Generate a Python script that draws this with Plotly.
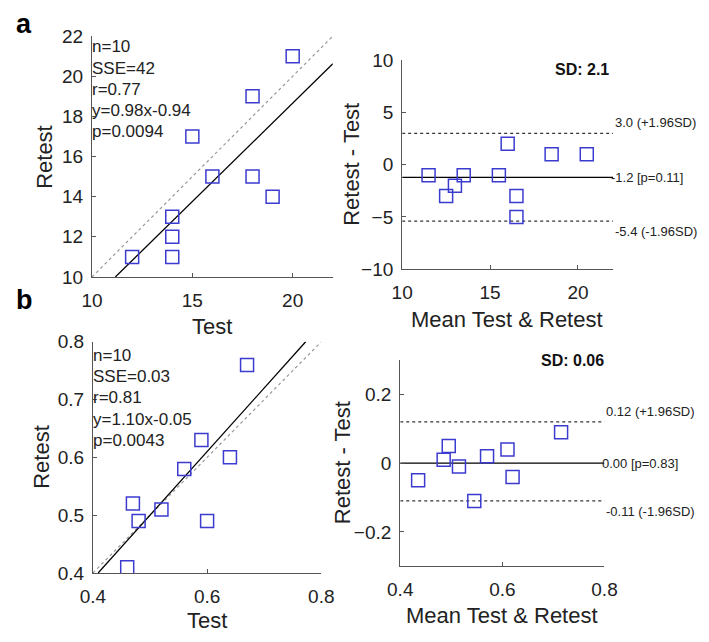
import plotly.graph_objects as go

W, H = 709, 642

# ---- Data: panel a ----
a_test = [12, 14, 14, 14, 15, 16, 18, 18, 19, 20]
a_retest = [11, 11, 12, 13, 17, 15, 15, 19, 14, 21]
a_slope, a_icpt = 0.98, -0.94
a_stats = ["n=10", "SSE=42", "r=0.77", "y=0.98x-0.94", "p=0.0094"]
a_mean_diff, a_upper, a_lower = -1.2, 3.0, -5.4
a_labels = ["3.0 (+1.96SD)", "-1.2 [p=0.11]", "-5.4 (-1.96SD)"]
a_sd = "SD: 2.1"

# ---- Data: panel b ----
b_test = [0.46, 0.47, 0.48, 0.52, 0.56, 0.59, 0.60, 0.64, 0.67]
b_retest = [0.41, 0.52, 0.49, 0.51, 0.58, 0.63, 0.49, 0.60, 0.76]
b_slope, b_icpt = 1.10, -0.05
b_stats = ["n=10", "SSE=0.03", "r=0.81", "y=1.10x-0.05", "p=0.0043"]
b_mean_diff, b_upper, b_lower = 0.00, 0.12, -0.11
b_labels = ["0.12 (+1.96SD)", "0.00 [p=0.83]", "-0.11 (-1.96SD)"]
b_sd = "SD: 0.06"

MK = "#3b3bd0"
FONT = "Liberation Sans, Arial, sans-serif"

def px_x(p):
    return p / W

def px_y(p):
    return 1 - p / H

# panel pixel boxes: (x0, x1, ytop, ybottom)
boxes = {
    1: (82, 332, 27, 276),
    2: (404, 623, 52, 268),
    3: (83, 320, 343, 582),
    4: (402, 614, 362, 575),
}

fig = go.Figure()

def ax(n):
    return ("x" if n == 1 else f"x{n}"), ("y" if n == 1 else f"y{n}")

# ---- Scatter panels (1 and 3) ----
def scatter_panel(n, test, retest, slope, icpt, lo, hi):
    xr, yr = ax(n)
    fig.add_trace(go.Scatter(x=[lo, hi], y=[lo, hi], mode="lines", xaxis=xr, yaxis=yr,
                             line=dict(color="#999999", width=1.2, dash="dot"), showlegend=False))
    x0 = (lo - icpt) / slope
    x1 = min(hi, (hi - icpt) / slope)
    fig.add_trace(go.Scatter(x=[x0, x1], y=[slope * x0 + icpt, slope * x1 + icpt], mode="lines",
                             xaxis=xr, yaxis=yr, line=dict(color="black", width=1.3), showlegend=False))
    fig.add_trace(go.Scatter(x=test, y=retest, mode="markers", xaxis=xr, yaxis=yr,
                             marker=dict(symbol="square-open", size=13, color=MK, line=dict(width=1.5)),
                             showlegend=False))

scatter_panel(1, a_test, a_retest, a_slope, a_icpt, 10, 22)
scatter_panel(3, b_test, b_retest, b_slope, b_icpt, 0.4, 0.8)

# ---- Bland-Altman panels (2 and 4) ----
def ba_panel(n, test, retest, md, up, lowv, xlo, xhi, labels):
    xr, yr = ax(n)
    means = [round((t + r) / 2, 4) for t, r in zip(test, retest)]
    diffs = [round(r - t, 4) for t, r in zip(test, retest)]
    for val in (up, lowv):
        fig.add_trace(go.Scatter(x=[xlo, xhi], y=[val, val], mode="lines", xaxis=xr, yaxis=yr,
                                 line=dict(color="#333333", width=1.2, dash="dot"), showlegend=False))
    fig.add_trace(go.Scatter(x=[xlo, xhi], y=[md, md], mode="lines", xaxis=xr, yaxis=yr,
                             line=dict(color="black", width=1.3), showlegend=False))
    fig.add_trace(go.Scatter(x=means, y=diffs, mode="markers", xaxis=xr, yaxis=yr,
                             marker=dict(symbol="square-open", size=13, color=MK, line=dict(width=1.5)),
                             showlegend=False))
    fig.add_annotation(x=xhi, y=up, xref=xr, yref=yr, text=labels[0], showarrow=False,
                       xanchor="left", yanchor="bottom", yshift=1, font=dict(size=13, color="#222"))
    fig.add_annotation(x=xhi, y=md, xref=xr, yref=yr, text=labels[1], showarrow=False,
                       xanchor="left", yanchor="middle", xshift=-4, font=dict(size=13, color="#222"))
    fig.add_annotation(x=xhi, y=lowv, xref=xr, yref=yr, text=labels[2], showarrow=False,
                       xanchor="left", yanchor="top", yshift=-1, font=dict(size=13, color="#222"))

ba_panel(2, a_test, a_retest, a_mean_diff, a_upper, a_lower, 10, 22, a_labels)
ba_panel(4, b_test, b_retest, b_mean_diff, b_upper, b_lower, 0.4, 0.8, b_labels)

# ---- Axes ----
axis_common = dict(showline=True, linecolor="#555555", linewidth=1.2, ticks="inside", ticklen=4,
                   tickcolor="#555555", showgrid=False, zeroline=False,
                   tickfont=dict(size=19, color="#222222", family=FONT))

specs = {
    1: dict(xr=[10, 22], xt=[10, 15, 20], yr=[10, 22], yt=[10, 12, 14, 16, 18, 20, 22],
            xtitle="Test", ytitle="Retest", xt_pos=(207, 327), yt_pos=(32, 152)),
    2: dict(xr=[10, 22], xt=[10, 15, 20], yr=[-10, 10], yt=[-10, -5, 0, 5, 10],
            xtitle="Mean Test & Retest", ytitle="Retest - Test", xt_pos=(513, 320), yt_pos=(352, 160)),
    3: dict(xr=[0.4, 0.8], xt=[0.4, 0.6, 0.8], yr=[0.4, 0.8], yt=[0.4, 0.5, 0.6, 0.7, 0.8],
            xtitle="Test", ytitle="Retest", xt_pos=(201, 631), yt_pos=(30, 462)),
    4: dict(xr=[0.4, 0.8], xt=[0.4, 0.6, 0.8], yr=[-0.3, 0.3], yt=[-0.2, 0, 0.2],
            xtitle="Mean Test & Retest", ytitle="Retest - Test", xt_pos=(508, 626), yt_pos=(342, 468)),
}

layout = {}
for n, s in specs.items():
    x0, x1, yt, yb = boxes[n]
    xa = "xaxis" if n == 1 else f"xaxis{n}"
    ya = "yaxis" if n == 1 else f"yaxis{n}"
    yref = "y" if n == 1 else f"y{n}"
    xref = "x" if n == 1 else f"x{n}"
    layout[xa] = dict(axis_common, domain=[px_x(x0), px_x(x1)], range=s["xr"], tickvals=s["xt"],
                      anchor=yref, ticklabelstandoff=6)
    layout[ya] = dict(axis_common, domain=[px_y(yb), px_y(yt)], range=s["yr"], tickvals=s["yt"],
                      anchor=xref, ticklabelstandoff=4)
    fig.add_annotation(x=px_x(s["xt_pos"][0]), y=px_y(s["xt_pos"][1]), xref="paper", yref="paper",
                       text=s["xtitle"], showarrow=False, xanchor="center", yanchor="middle",
                       font=dict(size=22, color="#222222", family=FONT))
    fig.add_annotation(x=px_x(s["yt_pos"][0]), y=px_y(s["yt_pos"][1]), xref="paper", yref="paper",
                       text=s["ytitle"], showarrow=False, xanchor="center", yanchor="middle",
                       textangle=-90, font=dict(size=22, color="#222222", family=FONT))
fig.update_layout(**layout)

# stats text
def stats(lines, x0, ytop):
    for i, t in enumerate(lines):
        fig.add_annotation(x=px_x(x0), y=px_y(ytop + 22 * i), xref="paper", yref="paper",
                           text=t, showarrow=False, xanchor="left", yanchor="middle",
                           font=dict(size=17, color="#222222", family=FONT))

stats(a_stats, 80, 38)
stats(b_stats, 81, 357)

# SD labels
fig.add_annotation(x=px_x(621), y=px_y(61), xref="paper", yref="paper", text="<b>" + a_sd + "</b>",
                   showarrow=False, xanchor="right", yanchor="middle",
                   font=dict(size=16, color="#111111", family=FONT))
fig.add_annotation(x=px_x(616), y=px_y(362), xref="paper", yref="paper", text="<b>" + b_sd + "</b>",
                   showarrow=False, xanchor="right", yanchor="middle",
                   font=dict(size=16, color="#111111", family=FONT))

# panel letters
fig.add_annotation(x=px_x(1), y=px_y(14), xref="paper", yref="paper", text="<b>a</b>",
                   showarrow=False, xanchor="left", yanchor="middle",
                   font=dict(size=27, color="black", family=FONT))
fig.add_annotation(x=px_x(1), y=px_y(300), xref="paper", yref="paper", text="<b>b</b>",
                   showarrow=False, xanchor="left", yanchor="middle",
                   font=dict(size=27, color="black", family=FONT))

fig.update_layout(width=W, height=H, margin=dict(l=0, r=0, t=0, b=0),
                  plot_bgcolor="white", paper_bgcolor="white",
                  font=dict(family=FONT, color="#222222"))

fig.write_html("out.html")
